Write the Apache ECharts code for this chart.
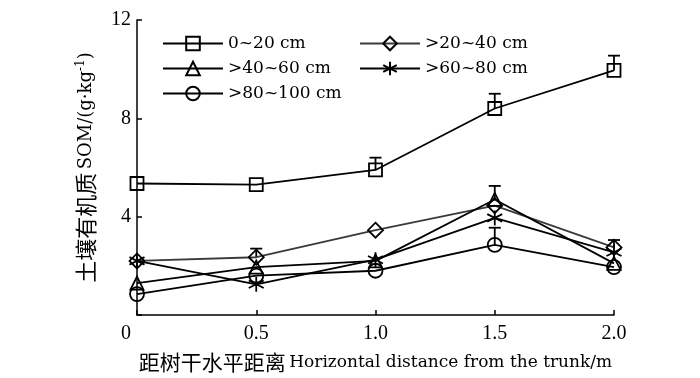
<!DOCTYPE html>
<html>
<head>
<meta charset="utf-8">
<script src="https://cdn.jsdelivr.net/npm/echarts@6/dist/echarts.min.js"></script>
<style>
  html, body { margin: 0; padding: 0; background: #fff; }
  #chart { width: 700px; height: 378px; }
</style>
</head>
<body>
<div id="chart"></div>
<script>
// distance from trunk (m)
const distances = [0, 0.5, 1.0, 1.5, 2.0];
const xTicks = ["0", "0.5", "1.0", "1.5", "2.0"];
const yTicks = [0, 4, 8, 12];

// SOM values per depth layer (g/kg)
const som0_20 = [5.35, 5.3, 5.9, 8.4, 9.95];
const som20_40 = [2.2, 2.35, 3.45, 4.45, 2.75];
const som40_60 = [1.3, 1.95, 2.2, 4.7, 2.1];
const som60_80 = [2.2, 1.25, 2.25, 3.95, 2.55];
const som80_100 = [0.85, 1.6, 1.8, 2.85, 1.95];

// upper error bars (0 = not visible)
const err0_20 = [0, 0, 0.5, 0.6, 0.6];
const err20_40 = [0, 0.35, 0, 0, 0.3];
const err40_60 = [0, 0, 0, 0.55, 0];
const err60_80 = [0, 0, 0, 0, 0];
const err80_100 = [0, 0, 0, 0.7, 0];

const layerNames = ["0~20 cm", ">20~40 cm", ">40~60 cm", ">60~80 cm", ">80~100 cm"];

const starPath = "path://M0,-10L0,10M-8.66,-5L8.66,5M-8.66,5L8.66,-5";

const layers = [
  { name: layerNames[0], vals: som0_20, err: err0_20, symbol: "rect", size: 13, color: "#000" },
  { name: layerNames[1], vals: som20_40, err: err20_40, symbol: "diamond", size: 15, color: "#3a3a3a" },
  { name: layerNames[2], vals: som40_60, err: err40_60, symbol: "triangle", size: 13, color: "#000" },
  { name: layerNames[3], vals: som60_80, err: err60_80, symbol: starPath, size: 15, color: "#000" },
  { name: layerNames[4], vals: som80_100, err: err80_100, symbol: "circle", size: 14, color: "#000" }
];

const serif = "'Liberation Serif', serif";
const wideSerif = "'DejaVu Serif', serif";
const cjk = "'Noto Sans CJK SC', sans-serif";

const series = [];
layers.forEach(function (l) {
  series.push({
    name: l.name,
    type: "line",
    data: distances.map(function (d, i) { return [d, l.vals[i]]; }),
    symbol: l.symbol,
    symbolSize: l.size,
    showAllSymbol: true,
    lineStyle: { color: l.color, width: 1.8 },
    itemStyle: { color: "transparent", borderColor: "#000", borderWidth: 1.8 },
    emphasis: { disabled: true },
    z: 3
  });
  const errData = [];
  distances.forEach(function (d, i) {
    if (l.err[i] > 0) errData.push([d, l.vals[i], l.err[i]]);
  });
  series.push({
    type: "custom",
    data: errData,
    z: 2,
    renderItem: function (params, api) {
      const x = api.value(0);
      const y = api.value(1);
      const e = api.value(2);
      const p0 = api.coord([x, y]);
      const p1 = api.coord([x, y + e]);
      const half = 6;
      return {
        type: "group",
        children: [
          { type: "line", shape: { x1: p0[0], y1: p0[1], x2: p1[0], y2: p1[1] }, style: { stroke: "#000", lineWidth: 1.8 } },
          { type: "line", shape: { x1: p1[0] - half, y1: p1[1], x2: p1[0] + half, y2: p1[1] }, style: { stroke: "#000", lineWidth: 1.8 } }
        ]
      };
    }
  });
});

const legendText = { fontFamily: wideSerif, fontSize: 17, color: "#000", lineHeight: 17 };

const option = {
  animation: false,
  backgroundColor: "#fff",
  grid: { left: 137, right: 86, top: 20, bottom: 61 },
  legend: [
    {
      orient: "vertical", left: 157, top: 30, itemWidth: 60, itemHeight: 17, itemGap: 8,
      data: [layerNames[0], layerNames[2], layerNames[4]], textStyle: legendText
    },
    {
      orient: "vertical", left: 354, top: 30, itemWidth: 60, itemHeight: 17, itemGap: 8,
      data: [layerNames[1], layerNames[3]], textStyle: legendText
    }
  ],
  xAxis: {
    type: "value", min: 0, max: 2, interval: 0.5,
    name: "{c|距树干水平距离} {n|Horizontal distance from the trunk/m}",
    nameLocation: "middle", nameGap: 37,
    nameTextStyle: {
      rich: {
        c: { fontFamily: cjk, fontSize: 21, color: "#000" },
        n: { fontFamily: wideSerif, fontSize: 17, color: "#000" }
      }
    },
    axisLine: { lineStyle: { color: "#000", width: 1.5 } },
    axisTick: { inside: true, length: 5, lineStyle: { color: "#000", width: 1.5 } },
    splitLine: { show: false },
    axisLabel: {
      fontFamily: serif, fontSize: 20, color: "#000", margin: 9,
      formatter: function (v) {
        const i = distances.indexOf(v);
        const t = i >= 0 ? xTicks[i] : "";
        return i === 0 ? "{z|" + t + "}" : t;
      },
      rich: { z: { fontFamily: serif, fontSize: 20, color: "#000", padding: [0, 22, 0, 0] } }
    }
  },
  yAxis: {
    type: "value", min: yTicks[0], max: yTicks[yTicks.length - 1], interval: 4,
    name: "{c|土壤有机质} {n|SOM/(g·kg}{s|-1}{n|)}",
    nameLocation: "middle", nameGap: 40,
    nameTextStyle: {
      rich: {
        c: { fontFamily: cjk, fontSize: 22, color: "#000" },
        n: { fontFamily: wideSerif, fontSize: 18, color: "#000" },
        s: { fontFamily: wideSerif, fontSize: 12, color: "#000", verticalAlign: "top", padding: [0, 0, 9, 0] }
      }
    },
    axisLine: { show: true, lineStyle: { color: "#000", width: 1.5 } },
    axisTick: { show: true, inside: true, length: 5, lineStyle: { color: "#000", width: 1.5 } },
    splitLine: { show: false },
    axisLabel: {
      fontFamily: serif, fontSize: 20, color: "#000", margin: 6,
      formatter: function (v) { return v === 0 ? "" : String(v); }
    }
  },
  series: series
};

const chart = echarts.init(document.getElementById("chart"));
chart.setOption(option);
window.addEventListener("resize", function () { chart.resize(); });
</script>
</body>
</html>
